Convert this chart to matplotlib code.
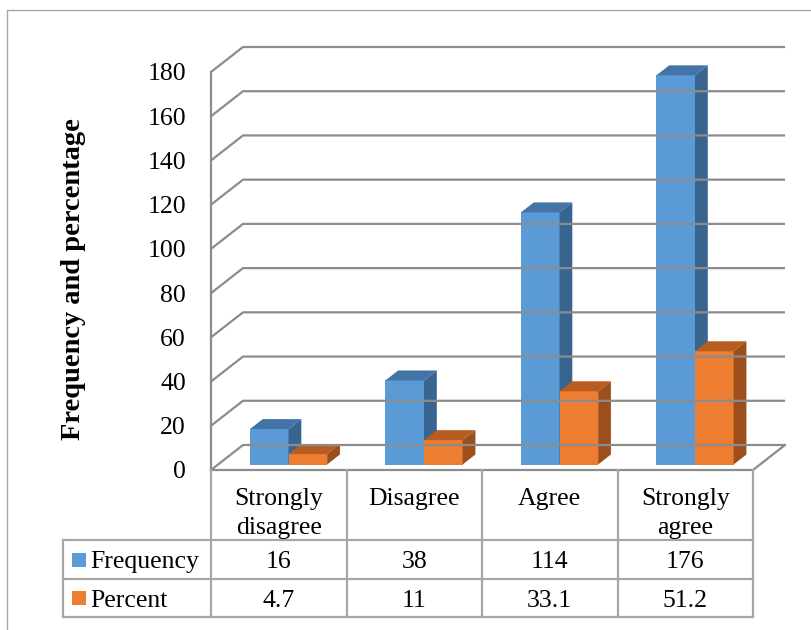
import matplotlib
matplotlib.use("Agg")
import matplotlib.pyplot as plt
from matplotlib.patches import Polygon, Rectangle
from matplotlib.lines import Line2D

# ---- data -------------------------------------------------------------
categories = ["Strongly\ndisagree", "Disagree", "Agree", "Strongly\nagree"]
frequency = [16, 38, 114, 176]
percent = [4.7, 11, 33.1, 51.2]
freq_labels = ["16", "38", "114", "176"]
pct_labels = ["4.7", "11", "33.1", "51.2"]
series_names = ["Frequency", "Percent"]
y_ticks = [0, 20, 40, 60, 80, 100, 120, 140, 160, 180]

# ---- style ------------------------------------------------------------
W, H, DPI = 811, 630, 100
FONT = "Liberation Serif"
FS = 18.5
BLUE = ("#5B9BD5", "#4274A6", "#386590")      # front, top, side
ORANGE = ("#ED7D31", "#B95C1F", "#9C4E1B")
GRID = "#8C8C8C"
TABLE = "#A6A6A6"
DX, DY = 32, 25            # depth of the plot box in pixels
F0, F1 = 0.22, 0.62        # depth span of the bars (fraction of box depth)
BAR_W = 0.285
SHIFT = 0.02

fig = plt.figure(figsize=(W / DPI, H / DPI), dpi=DPI)

# full-figure canvas in pixel units (y up)
canvas = fig.add_axes([0, 0, 1, 1])
canvas.set_xlim(0, W)
canvas.set_ylim(0, H)
canvas.axis("off")

# front plane of the value axes
x0_px, x1_px, y0_px, y1_px = 211, 753, 470, 72
ax = fig.add_axes([x0_px / W, (H - y0_px) / H, (x1_px - x0_px) / W, (y0_px - y1_px) / H])
ax.set_xlim(0, len(categories))
ax.set_ylim(0, 180)
ax.patch.set_visible(False)
for s in ax.spines.values():
    s.set_visible(False)
ax.set_xticks([])
ax.set_yticks(y_ticks)
ax.set_yticklabels([str(t) for t in y_ticks], fontfamily=FONT, fontsize=FS)
ax.tick_params(axis="y", length=0, pad=18)
ax.set_ylabel("Frequency and percentage", fontfamily=FONT, fontsize=20.5,
              fontweight="bold")
ax.yaxis.set_label_coords(-0.23, 0.479)


def proj(x, v, f):
    """Data point (x, v) pushed back by a fraction f of the box depth -> canvas px."""
    px, py = ax.transData.transform((x, v))
    return (px + f * DX, py + f * DY)


def seg(points, **kw):
    xs, ys = zip(*points)
    canvas.add_line(Line2D(xs, ys, **kw))


n = len(categories)

# back wall gridlines and left wall diagonals
for v in y_ticks:
    seg([proj(0, v, 0), proj(0, v, 1), proj(n, v, 1)], color=GRID, lw=1.6,
        solid_capstyle="butt")
# floor outline
seg([proj(0, 0, 0), proj(n, 0, 0), proj(n, 0, 1)], color=GRID, lw=1.6)
# left front edge
seg([proj(0, 0, 0), proj(0, 180, 0)], color=GRID, lw=1.6)


def bar3d(xl, xr, v, colors):
    front, top, side = colors
    canvas.add_patch(Polygon([proj(xl, 0, F0), proj(xr, 0, F0), proj(xr, v, F0),
                              proj(xl, v, F0)], closed=True, fc=front, ec="none"))
    canvas.add_patch(Polygon([proj(xl, v, F0), proj(xr, v, F0), proj(xr, v, F1),
                              proj(xl, v, F1)], closed=True, fc=top, ec="none"))
    canvas.add_patch(Polygon([proj(xr, 0, F0), proj(xr, 0, F1), proj(xr, v, F1),
                              proj(xr, v, F0)], closed=True, fc=side, ec="none"))


for i in range(n):
    c = i + 0.5 + SHIFT
    bar3d(c - BAR_W, c, frequency[i], BLUE)
    bar3d(c, c + BAR_W, percent[i], ORANGE)

# ---- data table ---------------------------------------------------------
col_x = [proj(i, 0, 0)[0] for i in range(n + 1)]
row_top = proj(0, 0, 0)[1]           # floor front edge
row_y = [H - 540, H - 579, H - 617]  # bottoms of header, frequency, percent rows
leg_x = 63
HEAD_BASE, LINE_STEP = H - 505, 29
ROW_BASE = [H - 568, H - 607]

for x in col_x:
    seg([(x, row_top), (x, row_y[2])], color=TABLE, lw=1.6)
seg([(leg_x, row_y[0]), (leg_x, row_y[2])], color=TABLE, lw=1.6)
for y in row_y:
    seg([(leg_x, y), (col_x[-1], y)], color=TABLE, lw=1.6)

txt = dict(fontfamily=FONT, fontsize=FS, va="baseline")
for i in range(n):
    cx = (col_x[i] + col_x[i + 1]) / 2
    for k, line in enumerate(categories[i].split("\n")):
        canvas.text(cx, HEAD_BASE - k * LINE_STEP, line, ha="center", **txt)
    canvas.text(cx, ROW_BASE[0], freq_labels[i], ha="center", **txt)
    canvas.text(cx, ROW_BASE[1], pct_labels[i], ha="center", **txt)

for k, (name, col) in enumerate(zip(series_names, (BLUE[0], ORANGE[0]))):
    yc = (row_y[k] + row_y[k + 1]) / 2
    canvas.add_patch(Rectangle((72, yc - 7), 14, 14, fc=col, ec="none"))
    canvas.text(90, ROW_BASE[k], name, ha="left", **txt)

# outer frame
seg([(7, 0), (7, H - 10), (W + 5, H - 10)], color="#A6A6A6", lw=1.0)

fig.savefig("out.png", dpi=DPI)
